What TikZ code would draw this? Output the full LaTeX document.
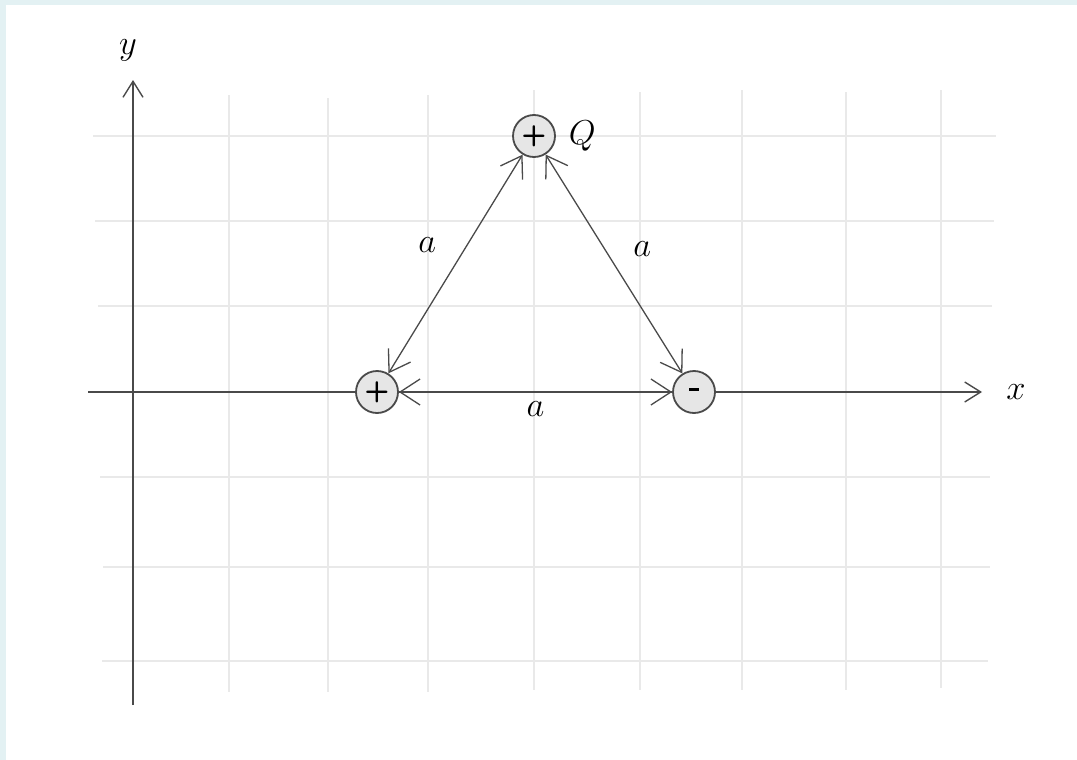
\documentclass[tikz,border=0pt]{standalone}
\usepackage{tikz}
\usetikzlibrary{positioning,arrows.meta}
\usepackage{xcolor}
\definecolor{frame}{HTML}{E3F1F3}
\definecolor{gridc}{HTML}{E9E9E9}
\definecolor{axisc}{HTML}{4A4A4A}
\definecolor{chargefill}{HTML}{E6E6E6}

\begin{document}
\begin{tikzpicture}[x=0.5pt,y=-0.5pt,
  every node/.style={font=\LARGE,text=black},
  charge/.style={circle,draw=axisc,fill=chargefill,line width=0.9pt,minimum size=21pt,inner sep=0pt,font=\sffamily\bfseries\Large},
  bond/.style={{Straight Barb[length=10pt,width=13pt]}-{Straight Barb[length=10pt,width=13pt]},axisc,line width=0.65pt},
  axis/.style={-{Straight Barb[length=8pt,width=10pt]},axisc,line width=0.7pt}]
 \useasboundingbox (0,0) rectangle (1077,760);
 \fill[frame] (0,0) rectangle (1077,760);
 \fill[white] (6,5) rectangle (1077,760);
 % grid
 \foreach \gx/\gt/\gb in {229/95/692,328/98/692,428/95/692,534/90/690,640/92/690,742/90/690,846/92/690,941/90/688}
  \draw[gridc,line width=0.8pt] (\gx,\gt) -- (\gx,\gb);
 \foreach \gy/\gl/\gr in {136/93/996,221/95/994,306/98/992,477/100/990,567/103/990,661/102/988}
  \draw[gridc,line width=0.8pt] (\gl,\gy) -- (\gr,\gy);
 % axes
 \coordinate (xs) at (88,392);
 \coordinate (xe) at (982,392);
 \coordinate (ys) at (133,705);
 \coordinate (ye) at (133,80);
 \draw[axis] (xs) -- (xe);
 \draw[axis] (ys) -- (ye);
 \node[right=12pt of xe,inner sep=0pt] (xl) {$x$};
 \node[above=9pt of ye,xshift=-2.5pt,inner sep=0pt] (yl) {$y$};
 % charges
 \node[charge] (q) at (534,136) {+};
 \node[charge] (p) at (377,392) {+};
 \node[charge] (n) at (694,392) {\rule[2.2pt]{5pt}{1.6pt}};
 \node[right=3pt of q] (ql) {$Q$};
 \draw[bond] (q) -- node[above left=2pt and 6pt]{$a$} (p);
 \draw[bond] (q) -- node[above right=0pt and 6pt]{$a$} (n);
 \draw[bond] (p) -- node[below=1pt]{$a$} (n);
\end{tikzpicture}
\end{document}
